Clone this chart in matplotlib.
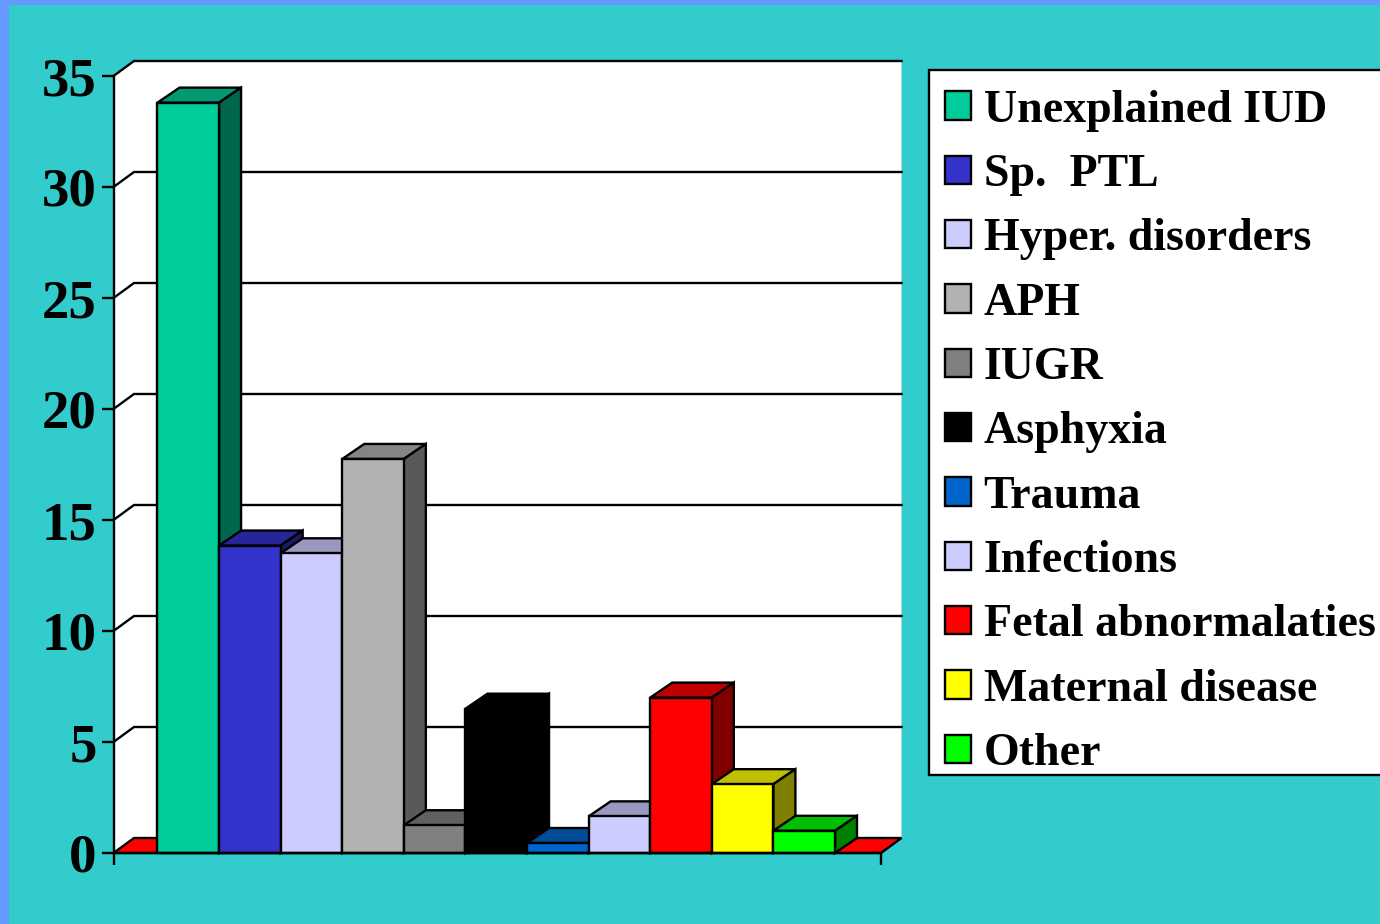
import matplotlib
matplotlib.use("Agg")
import matplotlib.pyplot as plt
from matplotlib.patches import Polygon, Rectangle
from matplotlib.colors import to_rgb

categories = ["Unexplained IUD", "Sp.  PTL", "Hyper. disorders", "APH", "IUGR", "Asphyxia",
              "Trauma", "Infections", "Fetal abnormalaties", "Maternal disease", "Other"]
values = [33.8, 13.85, 13.5, 17.75, 1.25, 6.5, 0.45, 1.65, 7.0, 3.1, 1.0]
colors = ["#00CC99", "#3333CC", "#CCCCFF", "#B2B2B2", "#808080", "#000000",
          "#0066CC", "#CCCCFF", "#FF0000", "#FFFF00", "#00FF00"]
y_ticks = [0, 5, 10, 15, 20, 25, 30, 35]

W, H = 1380, 924
fig = plt.figure(figsize=(W / 100, H / 100), dpi=100, facecolor="#6699FF")
fig.add_artist(Rectangle((9 / W, 0), 1 - 9 / W, 1 - 5 / H, transform=fig.transFigure,
                         facecolor="#33CCCC", edgecolor="none", zorder=-5))

px_left, px_right, px_bottom, px_top = 113.5, 881, 853, 76
ax = fig.add_axes([px_left / W, 1 - px_bottom / H, (px_right - px_left) / W, (px_bottom - px_top) / H])
ax.patch.set_visible(False)
SERIF = "Liberation Serif"
LW = 1.7

x_min, x_max = -1.214, 11.247
y_max = 35
ax.set_xlim(x_min, x_max)
ax.set_ylim(0, y_max)
sx = (x_max - x_min) / (px_right - px_left)
sy = y_max / (px_bottom - px_top)
dx, dy = 20.5 * sx, 15 * sy
bar_dx = 22 * sx


def face(pts, color, z, edge="black"):
    ax.add_patch(Polygon(pts, closed=True, facecolor=color, edgecolor=edge, linewidth=LW,
                         joinstyle="miter", clip_on=False, zorder=z))


# back wall and floor
ax.add_patch(Polygon([(x_min, 0), (x_min + dx, dy), (x_max + dx, dy), (x_max + dx, y_max + dy),
                      (x_min + dx, y_max + dy), (x_min, y_max)], closed=True, facecolor="white",
                     edgecolor="none", clip_on=False, zorder=0.5))
face([(x_min, 0), (x_min + dx, dy), (x_max + dx, dy), (x_max, 0)], "#FF0000", 0.7)
for t in y_ticks[1:]:
    ax.plot([x_min, x_min + dx, x_max + dx], [t, t + dy, t + dy], color="black", lw=LW,
            clip_on=False, zorder=0.8, solid_joinstyle="miter")

# bars, left to right, so each one overlaps the side of the previous one
for i, (v, c) in enumerate(zip(values, colors)):
    z = 1 + i
    rgb = to_rgb(c)
    top = tuple(0.75 * k for k in rgb)
    side = tuple(0.5 * k for k in rgb)
    l, r = i - 0.5, i + 0.5
    face([(l, v), (l + bar_dx, v + dy), (r + bar_dx, v + dy), (r, v)], top, z)
    face([(r, 0), (r + bar_dx, dy), (r + bar_dx, v + dy), (r, v)], side, z)
    ax.bar(i, v, width=1.0, color=c, edgecolor="black", linewidth=LW, zorder=z + 0.5, clip_on=False)

for name, sp in ax.spines.items():
    sp.set_visible(name in ("left", "bottom"))
    sp.set_linewidth(LW)
    sp.set_zorder(50)

ax.set_yticks(y_ticks)
ax.set_yticklabels([str(t) for t in y_ticks], fontfamily=SERIF, fontweight="bold", fontsize=39.5)
ax.set_xticks([x_min, x_max])
ax.set_xticklabels(["", ""])
ax.tick_params(axis="both", length=8.5, width=LW, color="black", labelcolor="black")
ax.tick_params(axis="y", pad=3.5)

# legend frame runs past the right edge of the figure, as in the reference
fig.add_artist(Rectangle((929 / W, 1 - 775 / H), 480 / W, 705 / H, transform=fig.transFigure,
                         facecolor="white", edgecolor="black", linewidth=LW, zorder=4))
handles = [Rectangle((0, 0), 1, 1, facecolor=c, edgecolor="black", linewidth=LW) for c in colors]
leg = fig.legend(handles, categories, loc="upper left", bbox_to_anchor=(931 / W, 1 - 76 / H),
                 borderaxespad=0, frameon=False,
                 prop={"family": SERIF, "weight": "bold", "size": 33},
                 handlelength=0.58, handleheight=0.58, handletextpad=0.27, labelspacing=0.487, borderpad=0.3)
leg.set_zorder(5)

fig.savefig("out.png", dpi=100, facecolor=fig.get_facecolor())
